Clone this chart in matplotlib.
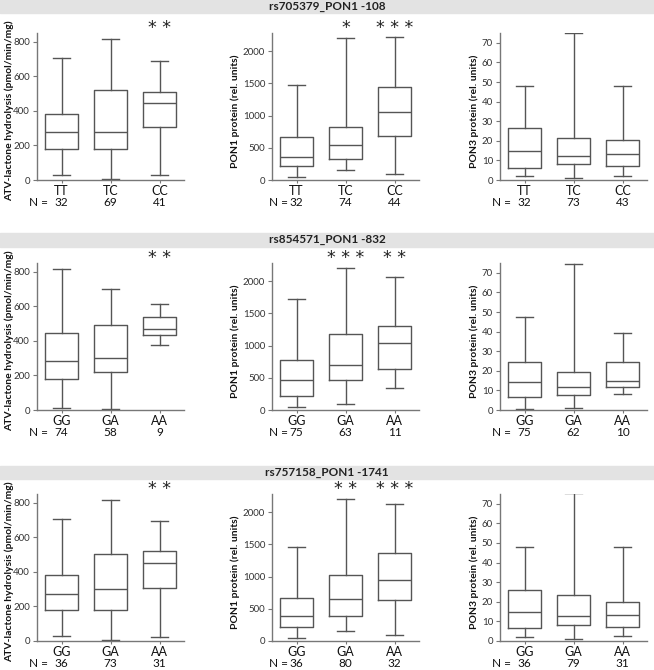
import matplotlib
matplotlib.use("Agg")
import matplotlib.pyplot as plt

plt.rcParams['font.family'] = ['Lato', 'DejaVu Sans']

# SNP blocks and genotypes
snps = ["rs705379_PON1 -108", "rs854571_PON1 -832", "rs757158_PON1 -1741"]
genotypes = [["TT", "TC", "CC"], ["GG", "GA", "AA"], ["GG", "GA", "AA"]]

# ATV-lactone hydrolysis (pmol/min/mg)
atv_lo = [[31, 6, 27], [10, 4, 378], [29, 6, 25]]
atv_q1 = [[177, 177, 304], [178, 219, 432], [180, 178, 306]]
atv_med = [[275, 279, 447], [285, 300, 471], [269, 300, 450]]
atv_q3 = [[383, 518, 507], [448, 492, 539], [382, 504, 521]]
atv_hi = [[703, 813, 690], [818, 700, 614], [703, 816, 692]]
atv_n = [[32, 69, 41], [74, 58, 9], [36, 73, 31]]
atv_stars = [["", "", "**"], ["", "", "**"], ["", "", "**"]]

# PON1 protein (rel. units)
pon1_lo = [[52, 149, 98], [46, 87, 344], [51, 149, 97]]
pon1_q1 = [[211, 325, 686], [215, 467, 641], [215, 395, 637]]
pon1_med = [[356, 541, 1057], [462, 703, 1041], [395, 652, 945]]
pon1_q3 = [[670, 820, 1443], [769, 1179, 1297], [662, 1026, 1360]]
pon1_hi = [[1474, 2206, 2216], [1723, 2195, 2056], [1456, 2200, 2118]]
pon1_n = [[32, 74, 44], [75, 63, 11], [36, 80, 32]]
pon1_stars = [["", "*", "***"], ["", "***", "**"], ["", "**", "***"]]

# PON3 protein (rel. units)
pon3_lo = [[2.2, 0.9, 2.2], [0.7, 1.0, 8.2], [2.1, 1.0, 2.4]]
pon3_q1 = [[6.0, 8.4, 7.2], [6.7, 7.5, 11.8], [6.7, 8.4, 7.2]]
pon3_med = [[14.8, 12.5, 13.5], [14.4, 11.8, 14.9], [14.6, 12.6, 13.4]]
pon3_q3 = [[26.6, 21.2, 20.6], [24.5, 19.4, 24.5], [25.8, 23.4, 20.1]]
pon3_hi = [[47.8, 74.9, 47.8], [47.3, 74.4, 39.5], [47.8, 75.4, 47.8]]
pon3_n = [[32, 73, 43], [75, 62, 10], [36, 79, 31]]
pon3_stars = [["", "", ""], ["", "", ""], ["", "", ""]]

measures = [
    ("ATV-lactone hydrolysis (pmol/min/mg)", atv_lo, atv_q1, atv_med, atv_q3, atv_hi,
     atv_n, atv_stars, 850, [0, 200, 400, 600, 800]),
    ("PON1 protein (rel. units)", pon1_lo, pon1_q1, pon1_med, pon1_q3, pon1_hi,
     pon1_n, pon1_stars, 2280, [0, 500, 1000, 1500, 2000]),
    ("PON3 protein (rel. units)", pon3_lo, pon3_q1, pon3_med, pon3_q3, pon3_hi,
     pon3_n, pon3_stars, 75, [0, 10, 20, 30, 40, 50, 60, 70]),
]

W, H = 654, 670
fig = plt.figure(figsize=(W / 100, H / 100), dpi=100)

col_left = [37, 272, 500]
col_w = 147
row_top = [33, 263, 494]
row_h = 147
label_x = [-0.155, -0.215, -0.14]
nlabel_x = [0.72, 0.82, 0.72]
bands = [(0, 13), (233, 247), (466, 479)]

line_c = "#555555"
spine_c = "#777777"

for r in range(3):
    y0, y1 = bands[r]
    fig.patches.append(plt.Rectangle((0, 1 - y1 / H), 1, (y1 - y0) / H,
                                     transform=fig.transFigure, color="#e3e3e3",
                                     zorder=0))
    fig.text(0.5, 1 - (y0 + y1) / 2 / H, snps[r], ha="center", va="center",
             fontsize=8.5, fontweight="bold", color="#222222")

    for c, (ylab, lo, q1, med, q3, hi, nn, stars, ytop, yt) in enumerate(measures):
        ax = fig.add_axes([col_left[c] / W, 1 - (row_top[r] + row_h) / H,
                           col_w / W, row_h / H])
        stats = []
        for i, g in enumerate(genotypes[r]):
            stats.append(dict(whislo=lo[r][i], q1=q1[r][i], med=med[r][i],
                              q3=q3[r][i], whishi=hi[r][i], fliers=[], label=g))
        ax.bxp(stats, positions=[1, 2, 3], widths=0.67, capwidths=0.33,
               showfliers=False,
               boxprops=dict(color=line_c, linewidth=1),
               medianprops=dict(color=line_c, linewidth=1),
               whiskerprops=dict(color=line_c, linewidth=1),
               capprops=dict(color=line_c, linewidth=1))
        ax.set_xlim(0.5, 3.5)
        ax.set_ylim(0, ytop)
        ax.set_yticks(yt)
        for s in ["top", "right"]:
            ax.spines[s].set_visible(False)
        for s in ["left", "bottom"]:
            ax.spines[s].set_color(spine_c)
            ax.spines[s].set_linewidth(1)
        ax.tick_params(axis="y", labelsize=7, length=3, color=spine_c,
                       labelcolor="#333333", pad=2)
        ax.tick_params(axis="x", labelsize=9, length=2.5, color=spine_c,
                       labelcolor="#111111", pad=1)
        ax.set_ylabel(ylab, fontsize=7.5, fontweight="bold", color="#111111")
        ax.yaxis.set_label_coords(label_x[c], 0.47)

        # N row
        ny = -0.15
        ax.text(nlabel_x[c], ny, "N =", transform=ax.get_xaxis_transform(),
                ha="right", va="center", fontsize=8.5, color="#111111")
        for i in range(3):
            ax.text(i + 1, ny, str(nn[r][i]), transform=ax.get_xaxis_transform(),
                    ha="center", va="center", fontsize=8.5, color="#111111")
            if stars[r][i]:
                ax.text(i + 1, 1.035, " ".join(stars[r][i]),
                        transform=ax.get_xaxis_transform(),
                        ha="center", va="center", fontsize=12.5,
                        family="DejaVu Sans", color="#222222")

fig.savefig("out.png", dpi=100)
